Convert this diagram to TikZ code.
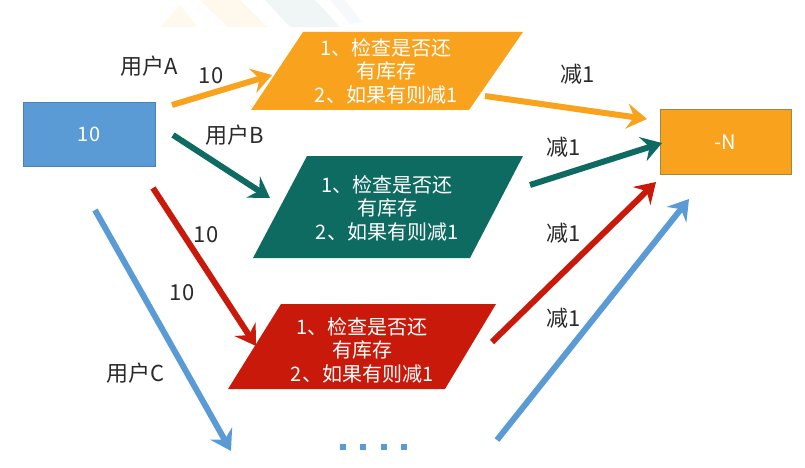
\documentclass[tikz,border=0pt]{standalone}
\usepackage{fontspec}
\setmainfont{Noto Sans CJK SC}
\usetikzlibrary{arrows.meta}
\definecolor{cblue}{HTML}{5B9BD5}
\definecolor{cbluedk}{HTML}{4A7FB8}
\definecolor{corange}{HTML}{F9A21E}
\definecolor{corangedk}{HTML}{9C8B3C}
\definecolor{cteal}{HTML}{0E6B62}
\definecolor{cred}{HTML}{C8190A}
\definecolor{clabel}{HTML}{2A2A2A}
\tikzset{
  fat/.style={line width=6pt, -{Stealth[length=20pt,width=25pt,inset=7pt]}},
  lbl/.style={text=clabel, font=\fontsize{22pt}{24pt}\selectfont, inner sep=0pt},
  ptext/.style={text=white, align=center, font=\fontsize{20pt}{23.5pt}\selectfont, inner sep=0pt},
  btext/.style={text=white, font=\fontsize{20pt}{22pt}\selectfont, inner sep=0pt},
  dot/.style={fill=cblue, draw=none, minimum size=6.5pt, inner sep=0pt}
}
\begin{document}
\begin{tikzpicture}[x=1pt,y=-1pt]
\useasboundingbox (0,0) rectangle (805,468);
% faint watermark
\fill[corange!8] (160,27) -- (180,5) -- (197,27) -- cycle;
\fill[corange!8] (200,0) -- (240,0) -- (267,27) -- (228,27) -- cycle;
\fill[cteal!6] (265,0) -- (315,0) -- (340,27) -- (290,27) -- cycle;
\fill[cblue!6] (330,0) -- (345,0) -- (362,22) -- (350,24) -- cycle;
% boxes
\node[draw=cbluedk, fill=cblue, minimum width=132pt, minimum height=64pt, line width=0.8pt] (src) at (89,134) {};
\node[btext] at (src) {10};
\node[draw=corangedk, fill=corange, minimum width=131pt, minimum height=64pt, line width=1pt] (dst) at (725.5,142) {};
\node[btext] at (dst) {-N};
% parallelograms
\fill[corange] (303,32) -- (523,32) -- (469,110) -- (251,110) -- cycle;
\node[ptext] (tA) at (386,71) {1、检查是否还\\有库存\\2、如果有则减1};
\fill[cteal] (307,156) -- (523,156) -- (470,258) -- (253,258) -- cycle;
\node[ptext] (tB) at (387,208) {1、检查是否还\\有库存\\2、如果有则减1};
\fill[cred] (281,304) -- (496,304) -- (445,389) -- (228,389) -- cycle;
\node[ptext] (tC) at (362,350) {1、检查是否还\\有库存\\2、如果有则减1};
% connector endpoints
\coordinate (a1s) at (172,105);
\coordinate (a1e) at (272,75);
\coordinate (a2s) at (485,96);
\coordinate (a2e) at (647,119);
\coordinate (b1s) at (173,135);
\coordinate (b1e) at (270,198);
\coordinate (b2s) at (530,185);
\coordinate (b2e) at (662,143);
\coordinate (c1s) at (153,188);
\coordinate (c1e) at (256,346);
\coordinate (c2s) at (492,342);
\coordinate (c2e) at (656,182);
\coordinate (d1s) at (95,210);
\coordinate (d1e) at (231,451);
\coordinate (d2s) at (497,440);
\coordinate (d2e) at (689,199);
\draw[fat, corange] (a1s) -- (a1e);
\draw[fat, corange] (a2s) -- (a2e);
\draw[fat, cteal] (b1s) -- (b1e);
\draw[fat, cteal] (b2s) -- (b2e);
\draw[fat, cred] (c1s) -- (c1e);
\draw[fat, cred] (c2s) -- (c2e);
\draw[fat, cblue] (d1s) -- (d1e);
\draw[fat, cblue] (d2s) -- (d2e);
% dots
\node[dot] (e1) at (343,447) {};
\node[dot] (e2) at (363,447) {};
\node[dot] (e3) at (384,447) {};
\node[dot] (e4) at (404,447) {};
% labels
\node[lbl] (lA) at (149,66) {用户A};
\node[lbl] (lB) at (235,135) {用户B};
\node[lbl] (lC) at (136,373) {用户C};
\node[lbl] (n1) at (211,76) {10};
\node[lbl] (n2) at (206,235) {10};
\node[lbl] (n3) at (182,293) {10};
\node[lbl] (m1) at (578,74) {减1};
\node[lbl] (m2) at (564,147) {减1};
\node[lbl] (m3) at (564,233) {减1};
\node[lbl] (m4) at (564,318) {减1};
\end{tikzpicture}
\end{document}
